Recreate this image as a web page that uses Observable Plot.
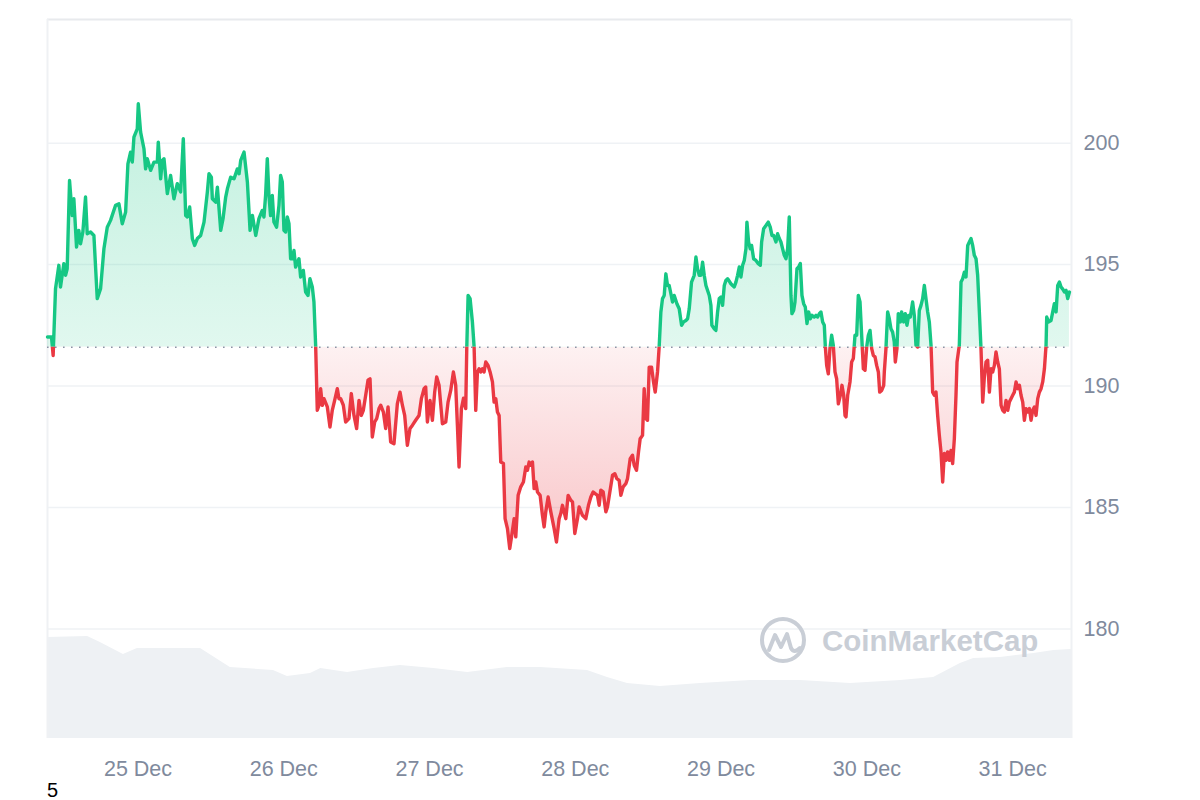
<!DOCTYPE html>
<html>
<head>
<meta charset="utf-8">
<script src="https://cdn.jsdelivr.net/npm/d3@7"></script>
<script src="https://cdn.jsdelivr.net/npm/@observablehq/plot@0.6"></script>
<style>
  body { margin: 0; background: #ffffff; font-family: "Liberation Sans", Arial, sans-serif; }
  #wrap { position: relative; width: 1200px; height: 800px; overflow: hidden; }
  #wrap svg { position: absolute; left: 0; top: 0; }
  #caption { position: absolute; left: 47px; top: 779px; font-size: 20px; color: #000; font-family: "Liberation Sans", Arial, sans-serif; }
</style>
</head>
<body>
<div id="wrap"></div>
<script>
// ---- data (hours after 24 Dec 09:06 UTC, price in USD) ----
const startTime = Date.UTC(2024, 11, 24, 9, 6);
const endHours = 168.6;
const baselinePrice = 191.6;
const priceTicks = [180, 185, 190, 195, 200];
const dayTicks = ["2024-12-25", "2024-12-26", "2024-12-27", "2024-12-28", "2024-12-29", "2024-12-30", "2024-12-31"];

const priceSeries = [
  [0,192.02],[0.66,192.02],[0.93,191.26],[1.32,194.01],[1.87,194.97],[2.14,194.08],[2.69,195.04],[2.97,194.56],[3.24,194.83],[3.63,198.46],
  [4.07,197.02],[4.34,197.71],[4.78,195.72],[5.16,196.41],[5.44,195.86],[5.82,196.34],[6.26,197.78],[6.54,196.27],[7.09,196.34],[7.64,196.2],
  [8.19,193.6],[8.74,194.01],[9.29,195.65],[9.84,196.54],[10.38,196.82],[11.21,197.44],[11.76,197.5],[12.31,196.68],[12.86,197.16],[13.24,199.15],
  [13.68,199.63],[13.96,199.22],[14.23,200.25],[14.78,200.59],[14.95,201.62],[15.33,200.45],[15.88,199.77],[16.15,198.94],[16.43,199.36],[16.98,198.88],
  [17.53,199.22],[18.08,199.22],[18.24,200.04],[18.63,198.53],[18.9,199.29],[19.18,199.36],[19.73,197.92],[20.27,198.67],[20.82,197.71],[21.37,198.33],
  [21.92,197.99],[22.36,200.18],[22.75,197.02],[23.02,196.96],[23.41,197.37],[23.85,196.07],[24.23,195.79],[24.67,196.07],[25.22,196.2],[25.77,196.75],
  [26.32,197.99],[26.59,198.74],[26.98,198.6],[27.14,197.71],[27.69,197.57],[27.97,198.19],[28.52,196.41],[28.9,196.89],[29.34,197.78],[29.62,198.12],
  [30.16,198.6],[30.71,198.53],[31.26,198.94],[31.54,198.74],[31.81,199.29],[32.36,199.63],[32.91,198.4],[33.35,196.41],[33.74,197.02],[34.29,196.2],
  [34.81,196.89],[35.36,197.23],[35.64,196.96],[35.91,197.85],[36.19,199.36],[36.46,197.85],[36.73,197.02],[37.01,197.85],[37.28,196.75],[37.72,196.54],
  [38.11,197.44],[38.38,198.67],[38.66,198.4],[38.93,196.41],[39.21,196.34],[39.48,196.96],[39.76,196.68],[40.03,195.24],[40.3,195.24],[40.58,195.58],
  [40.85,194.9],[41.4,195.24],[41.68,194.49],[42.12,194.76],[42.5,193.87],[42.89,193.73],[43.21,194.42],[43.6,194.08],[43.87,193.46],[44.15,191.68],
  [44.42,189.0],[44.7,189.21],[44.97,189.89],[45.25,189.21],[45.52,189.48],[46.07,189.14],[46.51,188.31],[46.89,189.0],[47.28,189.41],[47.72,189.89],
  [47.99,189.48],[48.27,189.48],[48.71,189.21],[49.09,188.52],[49.64,188.66],[50.02,189.69],[50.46,188.79],[50.9,188.25],[51.29,189.41],[51.67,188.79],
  [52.0,189.0],[52.39,189.62],[52.77,190.24],[53.1,190.3],[53.48,187.9],[53.87,188.52],[54.2,188.66],[54.58,189.07],[54.86,189.21],[55.3,188.93],
  [55.68,188.25],[56.07,189.14],[56.5,187.7],[57.05,187.63],[57.6,189.27],[58.04,189.75],[58.43,189.21],[58.81,188.79],[59.25,187.56],[59.69,188.25],
  [60.07,188.38],[60.62,188.59],[61.17,188.79],[61.56,189.48],[62.0,189.89],[62.27,189.96],[62.55,188.52],[62.98,189.41],[63.37,188.59],[63.75,189.75],
  [64.08,190.37],[64.47,190.03],[65.02,188.45],[65.57,188.52],[65.95,189.34],[66.39,189.82],[66.83,190.58],[67.21,190.03],[67.49,188.38],[67.76,186.67],
  [68.15,189.07],[68.5,189.5],[68.86,189.07],[69.03,191.54],[69.25,193.73],[69.58,193.6],[69.96,192.64],[70.24,191.61],[70.51,189.0],[70.79,190.58],
  [71.06,190.71],[71.33,190.58],[71.61,190.71],[71.88,190.58],[72.16,190.99],[72.54,190.85],[72.87,190.58],[73.26,190.17],[73.53,189.34],[73.81,189.48],
  [74.08,188.93],[74.36,188.79],[74.63,186.87],[75.07,186.81],[75.34,184.54],[75.73,184.13],[76.11,183.31],[76.44,183.86],[76.83,184.54],[77.1,183.79],
  [77.49,185.5],[77.92,185.85],[78.36,186.05],[78.75,186.67],[79.02,186.53],[79.3,186.87],[79.57,186.74],[79.85,186.87],[80.12,185.78],[80.4,186.05],
  [80.67,185.64],[81.11,185.5],[81.49,184.68],[81.77,184.2],[82.04,184.82],[82.43,185.43],[82.87,184.82],[83.42,184.13],[83.8,183.58],[84.24,184.54],
  [84.51,184.75],[84.79,185.09],[85.06,184.82],[85.34,184.54],[85.72,185.5],[86.16,185.3],[86.44,185.23],[86.82,183.93],[87.26,184.54],[87.53,185.02],
  [88.08,184.68],[88.63,184.54],[89.07,185.09],[89.46,185.43],[89.84,185.64],[90.17,185.57],[90.55,185.5],[90.83,185.09],[91.1,185.71],[91.49,185.64],
  [91.93,184.82],[92.2,185.02],[92.59,185.64],[93.03,186.33],[93.41,186.39],[93.74,186.19],[94.12,186.12],[94.4,185.5],[94.78,185.85],[95.22,185.98],
  [95.5,186.19],[95.94,187.01],[96.32,187.15],[96.6,186.74],[96.98,186.53],[97.31,187.29],[97.58,187.83],[97.97,187.97],[98.24,189.89],[98.52,188.66],
  [98.79,188.59],[99.07,190.78],[99.45,190.78],[99.78,190.17],[100.06,189.75],[100.44,190.58],[100.71,191.61],[100.99,193.05],[101.26,193.6],[101.54,193.73],
  [101.81,194.62],[102.09,194.14],[102.36,194.14],[102.64,193.8],[102.91,193.46],
  [103.19,193.73],[103.63,193.39],[104.01,193.18],[104.4,192.5],[104.73,192.64],[105.11,192.7],[105.39,192.77],[105.66,193.18],[106.04,194.28],[106.48,194.56],
  [106.76,195.31],[107.03,194.83],[107.31,194.56],[107.58,194.56],[107.86,195.1],[108.13,194.56],[108.41,194.14],[108.96,193.73],[109.23,193.32],[109.39,192.5],
  [109.78,192.36],[110.05,192.29],[110.33,193.05],[110.6,193.6],[110.88,193.66],[111.15,193.32],[111.43,194.14],[111.7,194.35],[111.98,194.42],[112.52,194.21],
  [112.8,194.14],[113.07,194.08],[113.35,194.28],[113.62,194.56],[113.9,194.9],[114.17,194.49],[114.45,194.97],[114.72,195.17],[115.0,195.65],[115.16,196.75],
  [115.43,195.93],[115.71,195.65],[115.93,195.79],[116.26,195.24],[116.64,195.17],[117.03,195.04],[117.36,194.97],[117.58,195.93],[117.91,196.48],[118.29,196.61],
  [118.67,196.75],[119.0,196.54],[119.28,196.2],[119.55,196.2],[119.94,195.93],[120.21,196.27],[120.49,196.07],[120.76,195.93],[121.04,195.65],[121.31,195.38],
  [121.59,195.24],[121.86,195.65],[122.13,196.96],[122.41,193.73],[122.57,192.98],[122.85,193.11],[123.07,193.46],[123.4,194.83],[123.67,194.9],[123.95,195.04],
  [124.22,193.73],[124.5,193.39],[124.77,193.25],[125.05,192.57],[125.32,193.05],[125.6,192.77],[125.87,192.91],[126.25,192.84],[126.53,192.91],[126.8,192.84],
  [127.08,192.98],[127.35,193.05],[127.63,192.64],[127.9,192.5],[128.07,191.61],[128.29,190.85],[128.56,190.5],[128.83,191.54],[129.11,192.09],[129.38,191.68],
  [129.66,190.58],[129.93,190.3],[130.21,189.27],[130.54,189.62],[130.81,190.03],[131.09,189.62],[131.31,188.79],[131.47,188.73],[131.75,189.62],[132.13,190.17],
  [132.4,190.99],[132.68,191.13],[132.95,192.09],[133.23,192.09],[133.5,193.73],[133.78,193.46],[134.05,192.09],[134.33,190.71],[134.6,190.65],[134.88,191.61],
  [135.15,192.09],[135.43,192.29],[135.7,191.54],[135.97,191.26],[136.25,191.2],[136.52,190.85],[136.8,190.58],[137.02,189.75],[137.35,189.82],[137.68,190.03],
  [137.78,190.58],[138.05,191.54],[138.33,193.05],[138.6,192.77],[138.87,192.36],[139.15,192.22],[139.42,191.81],[139.59,190.99],[139.86,191.54],[140.08,192.98],
  [140.41,192.64],[140.63,193.05],[140.96,192.64],[141.24,192.98],[141.51,192.5],[141.79,192.91],[142.06,192.84],[142.44,193.46],[142.72,192.91],[142.99,191.68],
  [143.27,191.61],[143.54,193.11],[143.82,193.32],[144.09,193.6],[144.37,194.14],[144.64,193.6],[144.92,193.05],[145.19,192.64],[145.47,191.68],[145.74,189.75],
  [146.01,189.62],[146.29,189.75],[146.56,188.79],[146.84,187.97],[147.11,187.29],[147.39,186.05],[147.66,187.22],[147.94,186.94],[148.21,187.29],[148.49,186.94],
  [148.76,187.35],[149.03,186.81],[149.31,187.83],[149.58,189.62],[149.75,190.99],[150.13,191.68],[150.41,194.28],[150.68,194.42],[150.96,194.69],[151.23,194.49],
  [151.51,195.79],[151.78,195.93],[152.06,196.07],[152.33,195.79],[152.6,195.38],[152.88,195.24],[153.15,194.56],[153.43,193.05],[153.7,191.54],[153.98,189.34],
  [154.25,190.37],[154.53,190.99],[154.8,191.06],[155.08,189.75],[155.35,190.71],[155.62,190.58],[155.9,190.85],[156.17,191.4],[156.45,190.99],[156.72,190.71],
  [157.0,189.21],[157.27,189.0],[157.55,188.93],[157.82,189.41],[158.1,189.0],[158.37,189.34],[158.64,189.48],[158.92,189.62],[159.19,189.75],[159.47,190.17],
  [159.74,189.89],[160.02,190.03],[160.29,189.62],[160.57,189.34],[160.84,188.59],[161.12,189.07],[161.39,188.93],[161.67,189.07],[161.94,188.59],[162.21,189.0],
  [162.49,189.14],[162.76,188.79],[163.04,189.48],[163.31,189.75],[163.59,189.89],[163.86,190.17],[164.14,190.71],[164.41,191.68],[164.52,192.84],[164.85,192.64],
  [165.23,192.7],[165.51,193.05],[165.78,193.39],[166.06,193.05],[166.33,194.14],[166.61,194.28],[166.88,194.08],[167.16,193.99],[167.43,193.87],[167.71,193.94],
  [167.98,193.6],[168.26,193.87]
];

// trading volume (relative units, read from the grey area)
const volumeSeries = [
  [0,1.01],[6.6,1.02],[8.7,0.96],[12.5,0.84],[14.8,0.90],[24.0,0.90],[25.2,0.90],[30.1,0.71],[37.2,0.68],[39.5,0.62],
  [43.3,0.65],[45.0,0.70],[49.4,0.66],[53.7,0.70],[58.1,0.73],[63.6,0.70],[69.2,0.66],[75.7,0.71],[81.2,0.71],[88.9,0.68],
  [92.2,0.61],[95.5,0.55],[100.9,0.52],[107.5,0.55],[115.8,0.58],[124.0,0.58],[132.2,0.55],[140.5,0.58],[145.9,0.61],[150.3,0.75],
  [152.5,0.80],[156.9,0.81],[162.4,0.85],[165.7,0.88],[168.6,0.89]
];

// ---- build ----
const toDate = h => new Date(startTime + h * 3600e3);
const priceData = priceSeries.map(([h, p]) => ({t: toDate(h), p}));
const volumeData = volumeSeries.map(([h, v]) => ({t: toDate(h), v}));

const W = 1200, H = 778;
const frame = {width: W, height: H, marginTop: 19, marginRight: 129, marginBottom: 40, marginLeft: 47};
const xDomain = [toDate(0), toDate(endHours)];
const yDomain = [175.49, 205.09];
const baseStyle = {background: "transparent", fontFamily: "'Liberation Sans', Arial, sans-serif", fontSize: "21.5px", color: "#808a9d", overflow: "visible"};
const GREEN = "#16c784", RED = "#ea3943";

const wrap = document.getElementById("wrap");

// volume layer
const volumeChart = Plot.plot({
  ...frame, style: baseStyle,
  x: {type: "utc", domain: xDomain, axis: null},
  y: {domain: [0, 7.19], axis: null},
  marks: [Plot.areaY(volumeData, {x: "t", y: "v", fill: "#eef1f4"})]
});
wrap.appendChild(volumeChart);

// grid + axes layer
const baseChart = Plot.plot({
  ...frame, style: baseStyle,
  x: {type: "utc", domain: xDomain, ticks: dayTicks.map(d => new Date(d + "T00:00:00Z")), tickFormat: d3.utcFormat("%-d %b"), tickSize: 0, tickPadding: 22, label: null},
  y: {domain: yDomain, axis: "right", ticks: priceTicks, tickSize: 0, tickPadding: 12, label: null},
  marks: [
    Plot.ruleY(priceTicks, {stroke: "#eff2f5", strokeWidth: 1.5}),
    Plot.ruleY([yDomain[1]], {stroke: "#e8eaed", strokeWidth: 2}),
    Plot.ruleX(xDomain, {stroke: "#eff1f4", strokeWidth: 2})
  ]
});
wrap.appendChild(baseChart);

// watermark
const wm = document.createElementNS("http://www.w3.org/2000/svg", "svg");
wm.setAttribute("width", 1200); wm.setAttribute("height", 800);
wm.innerHTML = `
  <g fill="none" stroke="#c9ced6" stroke-width="4" stroke-linecap="round" stroke-linejoin="round">
    <circle cx="783" cy="640" r="21"/>
    <path d="M769,650 L775,635 L781,647 L787,634 L791,648 Q794,654 800,648"/>
  </g>
  <text x="822" y="651" font-family="'Liberation Sans', Arial, sans-serif" font-weight="bold" font-size="29.5" fill="#c9ced6">CoinMarketCap</text>`;
wrap.appendChild(wm);

const ys = baseChart.scale("y");
const yBase = ys.apply(baselinePrice);

function priceLayer(color, gradId, stops, gy1, gy2, clip) {
  const svg = Plot.plot({
    ...frame, style: baseStyle,
    x: {type: "utc", domain: xDomain, axis: null},
    y: {domain: yDomain, axis: null},
    marks: [
      Plot.areaY(priceData, {x: "t", y1: () => baselinePrice, y2: "p", fill: `url(#${gradId})`}),
      Plot.ruleY([baselinePrice], {stroke: "#8a93a4", strokeWidth: 1.6, strokeDasharray: "1.6,6.4"}),
      Plot.line(priceData, {x: "t", y: "p", stroke: color, strokeWidth: 3.4, strokeLinejoin: "round", strokeLinecap: "round"})
    ]
  });
  const defs = d3.select(svg).insert("defs", ":first-child");
  const g = defs.append("linearGradient").attr("id", gradId)
    .attr("gradientUnits", "userSpaceOnUse").attr("x1", 0).attr("x2", 0).attr("y1", gy1).attr("y2", gy2);
  stops.forEach(([off, op]) => g.append("stop").attr("offset", off).attr("stop-color", color).attr("stop-opacity", op));
  svg.style.clipPath = clip;
  return svg;
}
wrap.appendChild(priceLayer(GREEN, "gradUp", [[0, 0.27], [1, 0.13]], ys.apply(202), yBase, `inset(0px 0px ${H - yBase}px 0px)`));
wrap.appendChild(priceLayer(RED, "gradDown", [[0, 0.07], [1, 0.3]], yBase, ys.apply(183), `inset(${yBase}px 0px 0px 0px)`));

const cap = document.createElement("div");
cap.id = "caption";
cap.textContent = "5";
wrap.appendChild(cap);
</script>
</body>
</html>
